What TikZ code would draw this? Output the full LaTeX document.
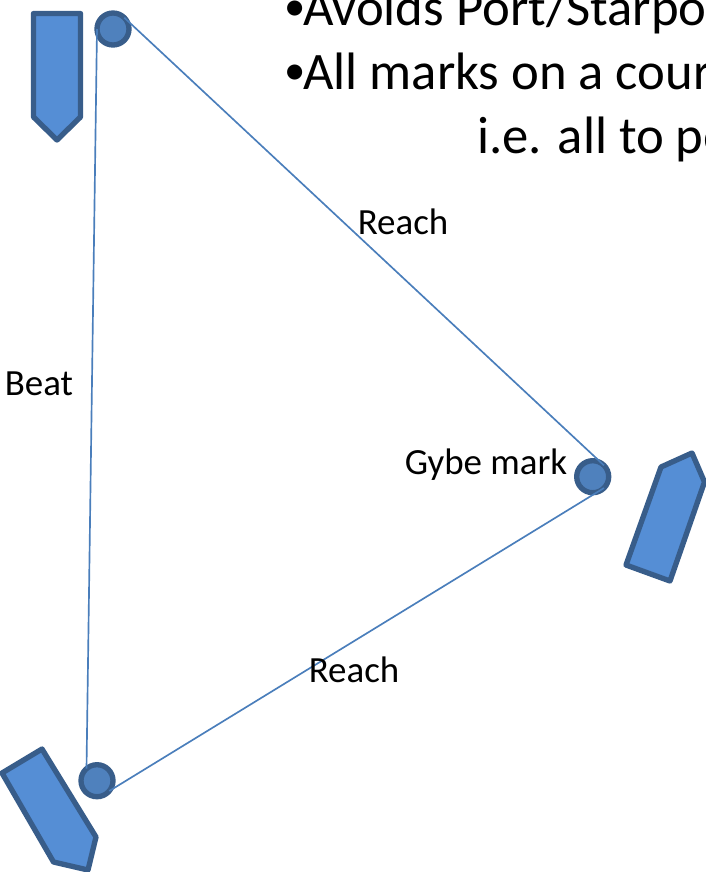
\documentclass[tikz,border=0pt]{standalone}
\usepackage{fontspec}
\setmainfont{Carlito}
\definecolor{boatfill}{HTML}{558ED5}
\definecolor{boatedge}{HTML}{385D8A}
\definecolor{markfill}{HTML}{4F81BD}
\definecolor{legline}{HTML}{4A7EBB}
\newcommand{\bigbullet}{\makebox[13.9pt][l]{\raisebox{3.75pt}{\fontsize{32pt}{38pt}\selectfont •}}}
\tikzset{
  boat/.style={draw=boatedge,fill=boatfill,line width=4pt,line join=round},
  markbuoy/.style={circle,draw=boatedge,fill=markfill,line width=4pt,inner sep=0pt,outer sep=0pt,minimum size=24pt},
  leg/.style={draw=legline,line width=1.25pt},
  leglabel/.style={inner sep=0pt,anchor=base west,font=\fontsize{27.7pt}{33pt}\selectfont},
  bigtext/.style={inner sep=0pt,anchor=base west,font=\fontsize{39.5pt}{48pt}\selectfont}
}
\begin{document}
\begin{tikzpicture}[x=0.75pt,y=-0.75pt]
\useasboundingbox (0,0) rectangle (706,872);
\clip (0,0) rectangle (706,872);
\draw[boat] (33.5,13.5) -- (80.5,13.5) -- (80.5,117) -- (57,140) -- (33.5,117) -- cycle;
\draw[boat] (661,467) -- (692,453) -- (704.5,482) -- (670,581) -- (626,565) -- cycle;
\draw[boat] (2,773) -- (42,749) -- (96,837) -- (88,870) -- (53.5,862) -- cycle;
\node[markbuoy] (m1) at (113,29) {};
\node[markbuoy] (m2) at (592.7,476.7) {};
\node[markbuoy] (m3) at (97,780.7) {};
\draw[leg] (m1.180) -- (m3.131);
\draw[leg] (m1.45) -- (m2.45);
\draw[leg] (m2.-45) -- (m3.-40);
\node[leglabel] (beat) at (4.5,395) {Beat};
\node[leglabel] (reach1) at (357.5,234) {Reach};
\node[leglabel] (reach2) at (308.5,682) {Reach};
\node[leglabel] (gybe) at (404.5,474) {Gybe mark};
\node[bigtext] (t1) at (284.5,25) {\bigbullet Avoids Port/Starport};
\node[bigtext] (t2) at (284.5,89) {\bigbullet All marks on a course};
\node[bigtext] (t3) at (477,153) {i.e. all to port};
\end{tikzpicture}
\end{document}
